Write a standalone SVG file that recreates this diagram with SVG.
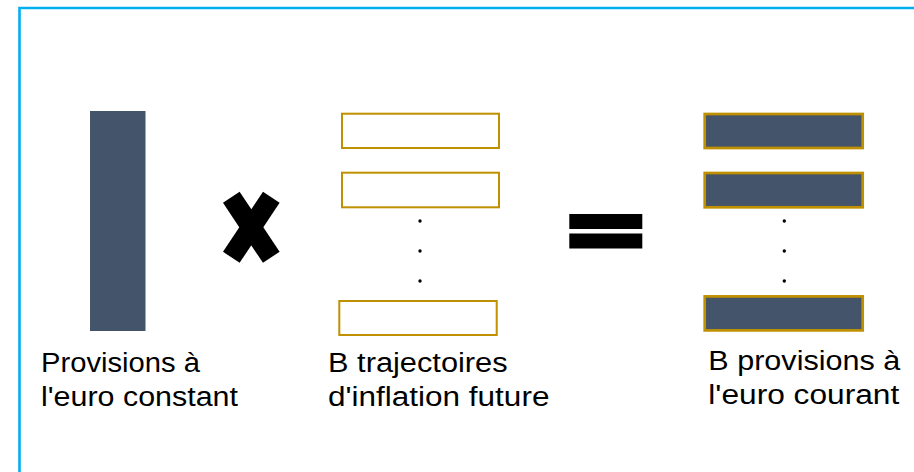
<svg xmlns="http://www.w3.org/2000/svg" width="914" height="472" viewBox="0 0 914 472">
<style>
.lbl{font-family:"Liberation Sans",Arial,sans-serif;font-size:27px;fill:#000}
.bar{fill:#44546A}
.open{fill:#fff;stroke:#BF9000;stroke-width:2}
.full{fill:#44546A;stroke:#BF9000;stroke-width:2.7}
.dot{fill:#000}
</style>
<rect width="914" height="472" fill="#fff"/>
<path d="M19.5,472 V8 H914" fill="none" stroke="#00B0F0" stroke-width="2.6"/>
<g id="constant">
<rect class="bar" x="90" y="111" width="55.5" height="220"/>
<text class="lbl" x="41" y="372" textLength="159" lengthAdjust="spacingAndGlyphs">Provisions à</text>
<text class="lbl" x="41" y="406" textLength="197" lengthAdjust="spacingAndGlyphs">l'euro constant</text>
</g>
<g id="times">
<line x1="231.3" y1="197.3" x2="271.3" y2="257.3" stroke="#000" stroke-width="20"/>
<line x1="271.3" y1="197.3" x2="231.3" y2="257.3" stroke="#000" stroke-width="20"/>
</g>
<g id="trajectoires">
<rect class="open" x="342" y="113.7" width="157" height="34.3"/>
<rect class="open" x="342" y="172.7" width="157" height="34.6"/>
<rect class="open" x="339.3" y="301" width="157.4" height="34"/>
<circle class="dot" cx="420" cy="221" r="1.7"/>
<circle class="dot" cx="420" cy="251" r="1.7"/>
<circle class="dot" cx="420" cy="281" r="1.7"/>
<text class="lbl" x="328" y="372" textLength="179.6" lengthAdjust="spacingAndGlyphs">B trajectoires</text>
<text class="lbl" x="328" y="406" textLength="221.4" lengthAdjust="spacingAndGlyphs">d'inflation future</text>
</g>
<g id="equals">
<rect x="569.3" y="214" width="73" height="15" fill="#000"/>
<rect x="569.3" y="233.5" width="73" height="15" fill="#000"/>
</g>
<g id="courant">
<rect class="full" x="704.7" y="114" width="158" height="34"/>
<rect class="full" x="704.7" y="173" width="158" height="34.3"/>
<rect class="full" x="704.7" y="296.4" width="158" height="34"/>
<circle class="dot" cx="784.3" cy="221" r="1.7"/>
<circle class="dot" cx="784.3" cy="251" r="1.7"/>
<circle class="dot" cx="784.3" cy="281" r="1.7"/>
<text class="lbl" x="708.3" y="370" textLength="192" lengthAdjust="spacingAndGlyphs">B provisions à</text>
<text class="lbl" x="708.3" y="404" textLength="191" lengthAdjust="spacingAndGlyphs">l'euro courant</text>
</g>
</svg>
